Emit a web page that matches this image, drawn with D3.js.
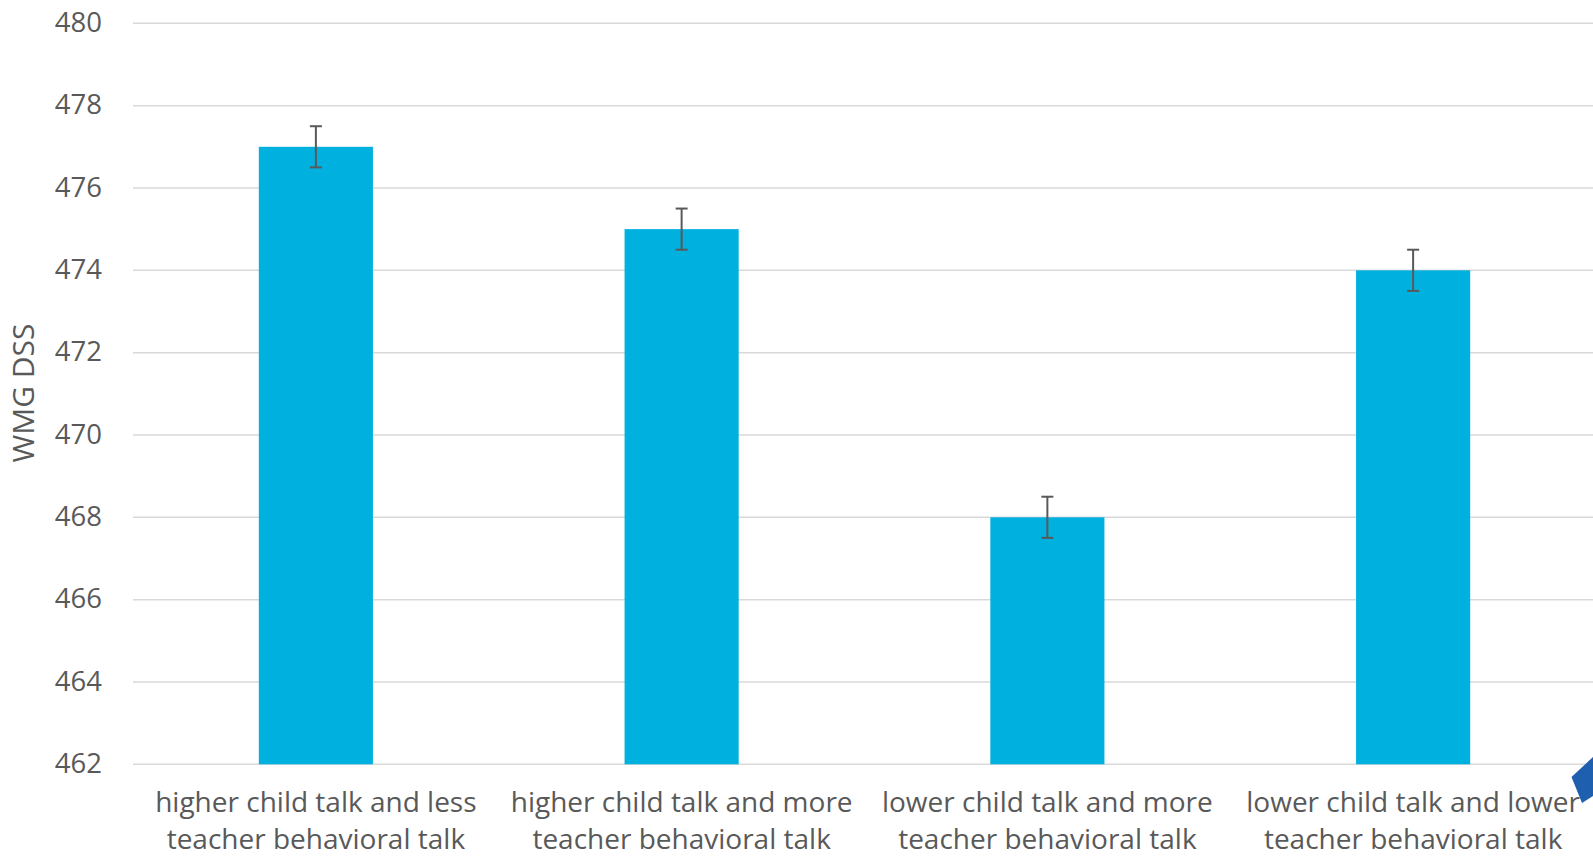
<!DOCTYPE html>
<html>
<head>
<meta charset="utf-8">
<script src="https://cdn.jsdelivr.net/npm/d3@7"></script>
<style>
  html, body { margin: 0; padding: 0; background: #fff; overflow: hidden; }
  svg { display: block; }
</style>
</head>
<body>
<svg id="chart" width="1593" height="856"></svg>
<script>
const categories = [
  ["higher child talk and less", "teacher behavioral talk"],
  ["higher child talk and more", "teacher behavioral talk"],
  ["lower child talk and more", "teacher behavioral talk"],
  ["lower child talk and lower", "teacher behavioral talk"]
];
const values = [477, 475, 468, 474];
const errors = [0.5, 0.5, 0.5, 0.5];
const yTicks = [462, 464, 466, 468, 470, 472, 474, 476, 478, 480];
const yTitle = "WMG DSS";

const svg = d3.select("#chart");
const font = "'Open Sans', sans-serif";
const textColor = "#595959";

const x = d3.scaleBand().domain(d3.range(categories.length)).range([133, 1596]).padding(0);
const y = d3.scaleLinear().domain([462, 480]).range([764.3, 23.3]);
const barW = x.bandwidth() * 0.312;

// gridlines
svg.append("g").selectAll("line").data(yTicks).join("line")
  .attr("x1", 133).attr("x2", 1593)
  .attr("y1", d => y(d)).attr("y2", d => y(d))
  .attr("stroke", "#d9d9d9").attr("stroke-width", 1.5);

// y axis labels
const yAxis = d3.axisLeft(y).tickValues(yTicks).tickSize(0).tickPadding(0);
const gy = svg.append("g").attr("transform", "translate(102,0)").call(yAxis);
gy.select(".domain").remove();
gy.selectAll("text")
  .attr("font-family", font).attr("font-size", 27.5).attr("fill", textColor)
  .attr("dy", "0.3em");

// bars
svg.append("g").selectAll("rect").data(values).join("rect")
  .attr("x", (d, i) => x(i) + x.bandwidth() / 2 - barW / 2)
  .attr("width", barW)
  .attr("y", d => y(d))
  .attr("height", d => y(462) - y(d))
  .attr("fill", "#00b0de");

// error bars
const eg = svg.append("g").attr("stroke", "#595959").attr("stroke-width", 2);
values.forEach((v, i) => {
  const cx = x(i) + x.bandwidth() / 2;
  const top = y(v + errors[i]), bot = y(v - errors[i]);
  eg.append("line").attr("x1", cx).attr("x2", cx).attr("y1", top).attr("y2", bot);
  eg.append("line").attr("x1", cx - 6).attr("x2", cx + 6).attr("y1", top).attr("y2", top);
  eg.append("line").attr("x1", cx - 6).attr("x2", cx + 6).attr("y1", bot).attr("y2", bot);
});

// x labels
const xl = svg.append("g");
categories.forEach((lines, i) => {
  const t = xl.append("text")
    .attr("x", x(i) + x.bandwidth() / 2)
    .attr("text-anchor", "middle")
    .attr("font-family", font).attr("font-size", 28).attr("fill", textColor);
  lines.forEach((ln, j) => {
    t.append("tspan").attr("x", x(i) + x.bandwidth() / 2).attr("y", 811.5 + j * 37).text(ln);
  });
});

// y title
svg.append("text")
  .attr("transform", "translate(34,393) rotate(-90)")
  .attr("text-anchor", "middle")
  .attr("font-family", font).attr("font-size", 30).attr("fill", textColor)
  .text(yTitle);

// decorative corner shape
svg.append("path")
  .attr("d", "M1593,757 L1571.5,777 L1582,803 L1593,796 Z")
  .attr("fill", "#1f5fb0");
</script>
</body>
</html>
